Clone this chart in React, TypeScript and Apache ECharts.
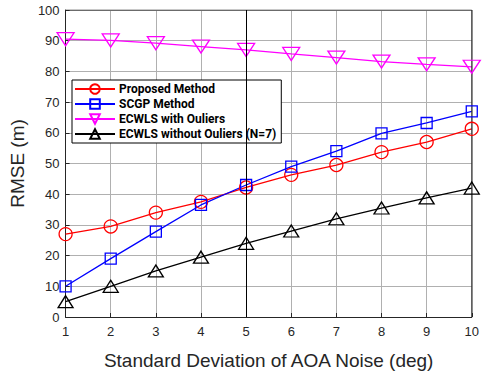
import React, { useEffect, useRef } from "react";
import * as echarts from "echarts";

const xValues = [1, 2, 3, 4, 5, 6, 7, 8, 9, 10];
const proposed = [27, 29.5, 34, 37.5, 42.2, 46.3, 49.5, 53.7, 57, 61.3];
const scgp = [10, 19, 27.8, 36.5, 43, 49, 54, 59.8, 63.2, 67];
const ecwlsWith = [90.5, 90.1, 89.2, 88.1, 87, 85.7, 84.5, 83.2, 82.3, 81.5];
const ecwlsWithout = [5, 10, 15, 19.5, 24, 28, 32, 35.5, 38.8, 42];

const seriesNames = [
  "Proposed Method",
  "SCGP Method",
  "ECWLS with Ouliers",
  "ECWLS without Ouliers (N=7)",
];

const font = "Arial, 'Liberation Sans', sans-serif";
const boldFont = "Roboto, Arial, sans-serif";

export default function App() {
  const ref = useRef<HTMLDivElement>(null);
  useEffect(() => {
    if (!ref.current) return;
    document.body.style.margin = "0";
    const chart = echarts.init(ref.current, undefined, { renderer: "svg" });
    const pair = (arr: number[]) => arr.map((v, i) => [xValues[i], v]);
    const mk = (
      name: string,
      data: number[],
      color: string,
      symbol: string,
      size: number | number[],
      rotate = 0
    ) => ({
      name,
      type: "line",
      data: pair(data),
      symbol,
      symbolSize: size,
      symbolRotate: rotate,
      showAllSymbol: true,
      lineStyle: { color, width: 1.3 },
      itemStyle: { color: "transparent", borderColor: color, borderWidth: 1.3 },
      emphasis: { disabled: true },
    });
    chart.setOption({
      animation: false,
      backgroundColor: "#fff",
      grid: { left: 62, right: 9, top: 10, bottom: 48 },
      legend: {
        left: 72,
        top: 80,
        orient: "vertical",
        itemGap: 3,
        itemWidth: 40,
        itemHeight: 12,
        padding: [3, 5, 3, 2],
        backgroundColor: "#fff",
        borderColor: "#000",
        borderWidth: 1,
        borderRadius: 0,
        data: seriesNames,
        textStyle: { fontFamily: boldFont, fontSize: 12, fontWeight: "bold", color: "#000", padding: [0, 0, 0, -1] },
      },
      xAxis: {
        type: "value",
        min: 1,
        max: 10,
        interval: 1,
        name: "Standard Deviation of AOA Noise (deg)",
        nameLocation: "middle",
        nameGap: 34,
        nameTextStyle: { fontFamily: font, fontSize: 19, color: "#262626" },
        axisLine: { show: true, lineStyle: { color: "#262626", width: 1 } },
        axisTick: { inside: true, length: 4, lineStyle: { color: "#262626" } },
        axisLabel: { fontFamily: font, fontSize: 13, color: "#262626", margin: 8 },
        splitLine: { show: true, lineStyle: { color: "#b0b0b0", width: 1 } },
      },
      yAxis: {
        type: "value",
        min: 0,
        max: 100,
        interval: 10,
        name: "RMSE (m)",
        nameLocation: "middle",
        nameGap: 34,
        nameTextStyle: { fontFamily: font, fontSize: 19, color: "#262626" },
        axisLine: { show: true, lineStyle: { color: "#262626", width: 1 } },
        axisTick: { inside: true, length: 4, lineStyle: { color: "#262626" } },
        axisLabel: { fontFamily: font, fontSize: 13, color: "#262626", margin: 6 },
        splitLine: { show: true, lineStyle: { color: "#b0b0b0", width: 1 } },
      },
      series: [
        {
          ...mk(seriesNames[0], proposed, "#ff0000", "circle", 13),
          markLine: {
            silent: true,
            symbol: "none",
            label: { show: false },
            lineStyle: { color: "#000", type: "solid", width: 1 },
            data: [{ xAxis: 5 }],
          },
        },
        mk(seriesNames[1], scgp, "#0000ff", "rect", 11),
        mk(seriesNames[2], ecwlsWith, "#ff00ff", "triangle", [17, 13], 180),
        mk(seriesNames[3], ecwlsWithout, "#000000", "triangle", [15, 12]),
        {
          type: "line",
          data: [[10, 0], [10, 100]],
          symbol: "none",
          lineStyle: { color: "#262626", width: 1 },
          silent: true,
        },
        {
          type: "line",
          data: [[1, 100], [10, 100]],
          symbol: "none",
          lineStyle: { color: "#262626", width: 1 },
          silent: true,
        },
      ],
    });
    return () => chart.dispose();
  }, []);
  return <div ref={ref} style={{ width: 482, height: 375 }} />;
}
